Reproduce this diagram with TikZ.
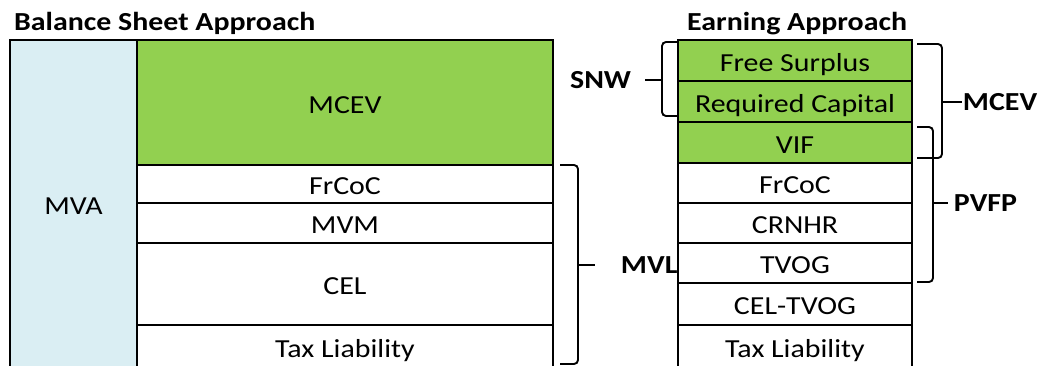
\documentclass[tikz,border=0pt]{standalone}
\usepackage{fontspec}
\setmainfont{Carlito}[FakeStretch=1.15]
\definecolor{evgreen}{HTML}{92D050}
\definecolor{mvablue}{HTML}{DAEEF3}

\begin{document}
\begin{tikzpicture}[
        x=1pt, y=-1pt,
        every node/.style={font=\fontsize{26}{30}\selectfont},
        cell/.style={
            draw,
            line width=1.4pt,
            inner sep=0pt,
            outer sep=0pt,
            anchor=north west,
            text height=23pt,
            text depth=2pt,
            align=center
        },
        lcell/.style={cell, minimum width=416pt},
        rcell/.style={cell, minimum width=234pt},
        thickline/.style={line width=2.6pt},
        bracket/.style={line width=1.9pt, rounded corners=4pt},
        title/.style={font=\fontsize{26}{30}\selectfont\bfseries, anchor=base west, inner sep=0pt},
        side/.style={font=\fontsize{26}{30}\selectfont\bfseries, inner sep=0pt}
    ]

        \useasboundingbox (0,0) rectangle (1040,365);
        \clip (0,0) rectangle (1040,365);

        \node[title] (ltitle) at (14,30)  {Balance Sheet Approach};
        \node[title] (rtitle) at (687,30) {Earning Approach};

        \node[cell, fill=mvablue, minimum width=127pt, minimum height=327pt] (mva) at (10,40) {MVA};
        \node[lcell, fill=evgreen, minimum height=125pt] (lmcev)  at (137,40)  {MCEV};
        \node[lcell, minimum height=38pt]                (lfrcoc) at (137,165) {FrCoC};
        \node[lcell, minimum height=40pt]                (lmvm)   at (137,203) {MVM};
        \node[lcell, minimum height=82pt]                (lcel)   at (137,243) {CEL};
        \node[lcell, minimum height=44pt]                (ltax)   at (137,325) {Tax Liability};

        \node[rcell, fill=evgreen, minimum height=41pt] (fs)      at (678,40)  {Free Surplus};
        \node[rcell, fill=evgreen, minimum height=41pt] (rc)      at (678,81)  {Required Capital};
        \node[rcell, fill=evgreen, minimum height=41pt] (vif)     at (678,122) {VIF};
        \node[rcell, minimum height=40pt]               (rfrcoc)  at (678,163) {FrCoC};
        \node[rcell, minimum height=40pt]               (crnhr)   at (678,203) {CRNHR};
        \node[rcell, minimum height=40pt]               (tvog)    at (678,243) {TVOG};
        \node[rcell, minimum height=42pt]               (celtvog) at (678,283) {CEL-TVOG};
        \node[rcell, minimum height=44pt]               (rtax)    at (678,325) {Tax Liability};

        \draw[thickline] (mva.south west) |- (lmcev.north east) -- (ltax.south east);
        \draw[thickline] (mva.north east) -- (mva.south east);
        \draw[thickline] (rtax.south west) |- (fs.north east) -- (rtax.south east);
        \draw[thickline] (rc.south west) -- (rc.south east);
        \draw[thickline] (vif.south west) -- (vif.south east);
        \draw[thickline] (tvog.south west) -- (tvog.south east);

        % brackets
        \coordinate (snwtip)  at (662,80);
        \coordinate (mcevtip) at (942,102);
        \coordinate (pvfptip) at (933,203);
        \coordinate (mvltip)  at (578,265);

        \draw[bracket] ([shift={(0,2)}]fs.north west) -- ++(-16,0) |- ([shift={(0,-6)}]rc.south west);
        \draw[bracket] (snwtip) -- ++(-17,0) node[side, left=13pt] (snw) {SNW};

        \draw[bracket] ([shift={(5,4)}]fs.north east) -- ++(25,0) |- ([shift={(5,-5)}]vif.south east);
        \draw[bracket] (mcevtip) -- ++(20,0) node[side, right=0pt] (mcev) {MCEV};

        \draw[bracket] ([shift={(5,5)}]vif.north east) -- ++(16,0) |- ([shift={(5,-1)}]tvog.south east);
        \draw[bracket] (pvfptip) -- ++(15,0) node[side, right=5pt] (pvfp) {PVFP};

        \draw[bracket] ([xshift=7pt]lfrcoc.north east) -- ++(18,0) |- ([shift={(7,-5)}]ltax.south east);
        \draw[bracket] (mvltip) -- ++(17,0) node[side, right=25pt] (mvl) {MVL};

    \end{tikzpicture}
\end{document}
